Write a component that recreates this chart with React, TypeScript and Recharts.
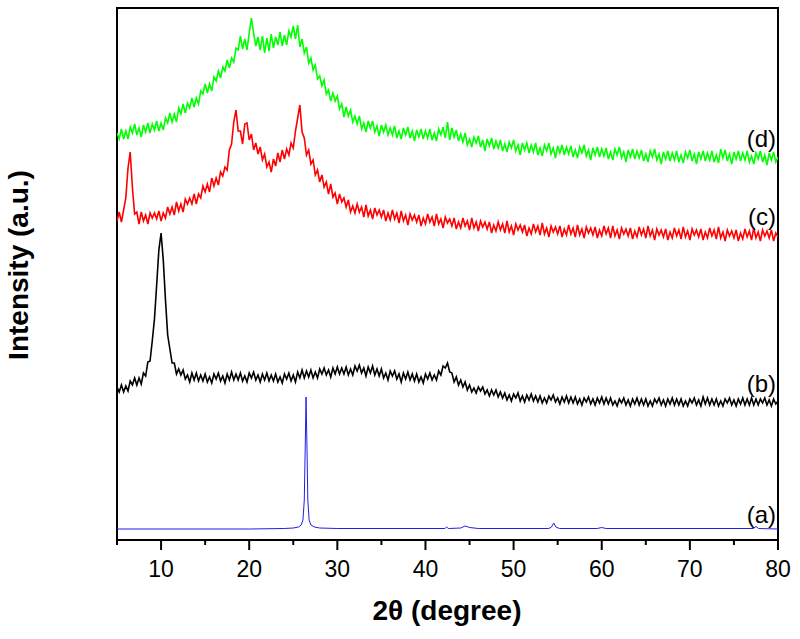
import { LineChart, Line, XAxis, YAxis, ReferenceArea } from 'recharts'

// plain page, no body margin
document.body.style.margin = '0'

// 2θ grid (degree) shared by the three noisy patterns (b), (c), (d)
const ANGLES = [
  5, 5.25, 5.5, 5.75, 6, 6.25, 6.5, 6.75,
  7, 7.25, 7.5, 7.75, 8, 8.25, 8.5, 8.75,
  9, 9.25, 9.5, 9.75, 10, 10.25, 10.5, 10.75,
  11, 11.25, 11.5, 11.75, 12, 12.25, 12.5, 12.75,
  13, 13.25, 13.5, 13.75, 14, 14.25, 14.5, 14.75,
  15, 15.25, 15.5, 15.75, 16, 16.25, 16.5, 16.75,
  17, 17.25, 17.5, 17.75, 18, 18.25, 18.5, 18.75,
  19, 19.25, 19.5, 19.75, 20, 20.25, 20.5, 20.75,
  21, 21.25, 21.5, 21.75, 22, 22.25, 22.5, 22.75,
  23, 23.25, 23.5, 23.75, 24, 24.25, 24.5, 24.75,
  25, 25.25, 25.5, 25.75, 26, 26.25, 26.5, 26.75,
  27, 27.25, 27.5, 27.75, 28, 28.25, 28.5, 28.75,
  29, 29.25, 29.5, 29.75, 30, 30.25, 30.5, 30.75,
  31, 31.25, 31.5, 31.75, 32, 32.25, 32.5, 32.75,
  33, 33.25, 33.5, 33.75, 34, 34.25, 34.5, 34.75,
  35, 35.25, 35.5, 35.75, 36, 36.25, 36.5, 36.75,
  37, 37.25, 37.5, 37.75, 38, 38.25, 38.5, 38.75,
  39, 39.25, 39.5, 39.75, 40, 40.25, 40.5, 40.75,
  41, 41.25, 41.5, 41.75, 42, 42.25, 42.5, 42.75,
  43, 43.25, 43.5, 43.75, 44, 44.25, 44.5, 44.75,
  45, 45.25, 45.5, 45.75, 46, 46.25, 46.5, 46.75,
  47, 47.25, 47.5, 47.75, 48, 48.25, 48.5, 48.75,
  49, 49.25, 49.5, 49.75, 50, 50.25, 50.5, 50.75,
  51, 51.25, 51.5, 51.75, 52, 52.25, 52.5, 52.75,
  53, 53.25, 53.5, 53.75, 54, 54.25, 54.5, 54.75,
  55, 55.25, 55.5, 55.75, 56, 56.25, 56.5, 56.75,
  57, 57.25, 57.5, 57.75, 58, 58.25, 58.5, 58.75,
  59, 59.25, 59.5, 59.75, 60, 60.25, 60.5, 60.75,
  61, 61.25, 61.5, 61.75, 62, 62.25, 62.5, 62.75,
  63, 63.25, 63.5, 63.75, 64, 64.25, 64.5, 64.75,
  65, 65.25, 65.5, 65.75, 66, 66.25, 66.5, 66.75,
  67, 67.25, 67.5, 67.75, 68, 68.25, 68.5, 68.75,
  69, 69.25, 69.5, 69.75, 70, 70.25, 70.5, 70.75,
  71, 71.25, 71.5, 71.75, 72, 72.25, 72.5, 72.75,
  73, 73.25, 73.5, 73.75, 74, 74.25, 74.5, 74.75,
  75, 75.25, 75.5, 75.75, 76, 76.25, 76.5, 76.75,
  77, 77.25, 77.5, 77.75, 78, 78.25, 78.5, 78.75,
  79, 79.25, 79.5, 79.75, 80,
]

// intensity (a.u., stacked offsets) on the grid above
const INT_B = [
  153, 148, 155, 148, 154, 149, 159, 155,
  162, 155, 162, 156, 167, 164, 178, 179,
  199, 221, 255, 290, 307, 280, 240, 205,
  191, 177, 177, 166, 171, 165, 170, 161,
  165, 158, 167, 160, 167, 159, 165, 159,
  166, 158, 163, 157, 166, 161, 167, 159,
  164, 157, 166, 160, 168, 160, 166, 160,
  167, 159, 164, 158, 167, 162, 168, 160,
  165, 158, 166, 160, 167, 159, 165, 159,
  166, 158, 163, 157, 166, 161, 167, 159,
  165, 158, 168, 162, 170, 162, 169, 163,
  170, 162, 168, 162, 171, 166, 172, 165,
  170, 163, 172, 166, 173, 166, 172, 166,
  173, 165, 171, 165, 174, 169, 175, 167,
  172, 164, 173, 167, 174, 165, 171, 164,
  171, 162, 167, 160, 169, 164, 169, 161,
  166, 158, 167, 161, 168, 160, 166, 159,
  166, 158, 163, 157, 166, 161, 167, 160,
  165, 160, 169, 165, 174, 172, 177, 168,
  167, 158, 163, 155, 160, 153, 158, 150,
  155, 148, 152, 147, 153, 149, 153, 146,
  150, 144, 150, 145, 150, 143, 148, 142,
  147, 140, 145, 139, 146, 142, 147, 139,
  144, 138, 145, 140, 146, 139, 144, 138,
  144, 137, 142, 137, 144, 140, 145, 138,
  142, 136, 143, 138, 144, 137, 143, 137,
  143, 136, 141, 135, 142, 138, 143, 136,
  141, 135, 142, 137, 143, 136, 142, 136,
  142, 135, 139, 134, 141, 137, 142, 135,
  140, 134, 141, 136, 142, 135, 141, 135,
  141, 134, 139, 134, 141, 137, 142, 135,
  140, 134, 141, 136, 142, 135, 141, 135,
  141, 134, 139, 134, 141, 137, 142, 135,
  140, 134, 143, 136, 142, 135, 141, 135,
  141, 134, 139, 134, 141, 137, 142, 135,
  140, 134, 141, 136, 142, 135, 141, 135,
  142, 135, 141, 135, 141, 137, 142, 135,
  140, 134, 141, 136, 139,
]

const INT_C = [
  319, 328, 318, 330, 342, 372, 388, 352,
  326, 328, 316, 328, 319, 325, 316, 327,
  322, 327, 321, 329, 319, 327, 322, 333,
  326, 333, 325, 338, 329, 336, 328, 341,
  336, 342, 336, 346, 336, 346, 342, 354,
  348, 356, 348, 362, 354, 362, 355, 368,
  364, 373, 370, 390, 396, 418, 430, 409,
  409, 396, 416, 417, 400, 406, 390, 397,
  386, 393, 380, 386, 373, 378, 368, 381,
  374, 387, 378, 390, 381, 391, 385, 397,
  392, 409, 422, 435, 408, 402, 385, 390,
  376, 380, 365, 370, 358, 365, 353, 358,
  346, 356, 343, 347, 336, 346, 338, 342,
  333, 340, 328, 334, 327, 336, 328, 333,
  323, 335, 324, 330, 321, 332, 325, 330,
  323, 330, 319, 327, 320, 330, 321, 327,
  317, 329, 319, 325, 315, 326, 320, 325,
  318, 325, 314, 322, 316, 326, 318, 323,
  314, 326, 316, 321, 312, 323, 317, 321,
  314, 322, 311, 318, 312, 322, 314, 319,
  310, 322, 312, 318, 309, 319, 313, 318,
  311, 318, 307, 315, 309, 318, 310, 316,
  307, 319, 308, 314, 305, 316, 310, 315,
  308, 315, 304, 312, 306, 316, 308, 314,
  305, 317, 306, 312, 303, 314, 308, 313,
  306, 314, 303, 311, 305, 315, 306, 312,
  303, 315, 305, 311, 302, 313, 307, 312,
  305, 313, 302, 310, 304, 314, 306, 312,
  302, 314, 304, 310, 301, 312, 306, 311,
  304, 312, 301, 309, 303, 313, 305, 311,
  302, 314, 304, 310, 300, 311, 305, 310,
  303, 311, 300, 308, 302, 312, 304, 310,
  301, 313, 303, 309, 300, 311, 305, 310,
  303, 311, 300, 308, 302, 312, 304, 310,
  301, 313, 302, 308, 299, 310, 304, 309,
  302, 310, 299, 307, 301, 311, 303, 309,
  300, 312, 302, 308, 299, 310, 304, 309,
  302, 310, 299, 307, 303,
]

const INT_D = [
  407, 401, 411, 401, 409, 401, 413, 407,
  416, 405, 412, 403, 415, 408, 417, 407,
  416, 410, 419, 409, 417, 410, 422, 417,
  427, 418, 426, 418, 432, 426, 436, 427,
  437, 432, 442, 433, 442, 436, 449, 446,
  456, 447, 456, 449, 463, 459, 469, 462,
  473, 469, 480, 472, 482, 478, 492, 490,
  504, 491, 501, 490, 507, 522, 507, 494,
  503, 490, 504, 487, 502, 489, 506, 492,
  503, 495, 508, 494, 505, 495, 509, 503,
  514, 501, 515, 493, 501, 487, 493, 477,
  482, 470, 475, 461, 464, 454, 460, 446,
  450, 439, 447, 439, 444, 431, 436, 423,
  433, 424, 430, 418, 424, 416, 424, 411,
  417, 408, 419, 412, 419, 408, 414, 404,
  415, 408, 415, 405, 412, 405, 414, 402,
  409, 401, 412, 405, 413, 402, 409, 399,
  410, 403, 411, 401, 409, 402, 411, 400,
  407, 399, 411, 405, 413, 402, 418, 400,
  412, 403, 410, 399, 406, 398, 407, 395,
  401, 393, 403, 397, 404, 393, 400, 389,
  401, 394, 402, 391, 399, 392, 400, 389,
  396, 388, 398, 392, 400, 389, 395, 385,
  397, 390, 397, 387, 395, 388, 397, 385,
  392, 384, 395, 389, 397, 386, 392, 382,
  394, 387, 395, 385, 393, 386, 394, 383,
  390, 382, 393, 387, 395, 384, 390, 380,
  392, 385, 393, 383, 391, 384, 392, 381,
  388, 380, 391, 385, 393, 382, 388, 378,
  390, 383, 391, 381, 389, 382, 390, 379,
  386, 378, 389, 383, 391, 380, 386, 376,
  388, 381, 389, 379, 387, 380, 389, 378,
  385, 377, 388, 382, 390, 379, 386, 376,
  388, 381, 389, 379, 387, 380, 389, 378,
  385, 377, 391, 382, 390, 379, 386, 376,
  388, 381, 389, 379, 387, 380, 389, 378,
  384, 376, 387, 381, 389, 378, 385, 375,
  387, 380, 388, 378, 383,
]

// (a) is smooth with a few sharp reflections: [2θ, intensity]
const SERIES_A: [number, number][] = [
  [5, 11], [20, 11], [24, 11.5], [25, 12], [25.6, 13], [25.9, 15], [26.1, 20], [26.25, 40],
  [26.35, 90], [26.45, 143], [26.55, 95], [26.65, 40], [26.8, 20], [27, 15], [27.4, 13], [28, 12],
  [30, 11.5], [42.2, 11.5], [42.4, 13], [42.6, 11.5], [44, 12], [44.5, 14], [45, 12.5], [46, 11.5],
  [54, 11.5], [54.3, 13], [54.55, 17], [54.8, 13], [55.2, 11.5], [59.5, 11.5], [60, 12.5],
  [60.5, 11.5], [77.2, 11.5], [77.5, 13.5], [77.8, 11.5], [80, 11],
]

const X_TICKS = [5, 10, 15, 20, 25, 30, 35, 40, 45, 50, 55, 60, 65, 70, 75, 80]
const SERIES_LABELS = ['(a)', '(b)', '(c)', '(d)']
// label baselines (px) for (a)..(d), right aligned at the plot edge
const LABEL_Y = [523, 392, 225, 147]

const COLORS = {
  a: '#1f1fe6',
  b: '#000000',
  c: '#ff0000',
  d: '#00ff00',
}

const FONT = '"Liberation Sans", Arial, sans-serif'

const table = ANGLES.map((x, i) => ({ x, b: INT_B[i], c: INT_C[i], d: INT_D[i] }))
const tableA = SERIES_A.map(([x, a]) => ({ x, a }))

const AxisTick = ({ x, y, payload }: any) => {
  const major = payload.value % 10 === 0
  return (
    <g>
      <line x1={x} x2={x} y1={y} y2={y + (major ? 10 : 5)} stroke="#000" strokeWidth={2} />
      {major && (
        <text x={x} y={y + 37} textAnchor="middle" fontSize={23} fontFamily={FONT} fill="#000">
          {payload.value}
        </text>
      )}
    </g>
  )
}

export default function App() {
  return (
    <div style={{ position: 'relative', width: 800, height: 639, background: '#fff' }}>
      <LineChart width={800} height={639} data={table} margin={{ top: 8, right: 22, bottom: 0, left: 117 }}>
        <XAxis
          dataKey="x"
          type="number"
          domain={[5, 80]}
          ticks={X_TICKS}
          interval={0}
          allowDataOverflow
          height={99}
          axisLine={false}
          tickLine={false}
          tickSize={0}
          tickMargin={0}
          tick={<AxisTick />}
        />
        <YAxis type="number" domain={[0, 532]} hide allowDataOverflow />
        <Line data={tableA} dataKey="a" stroke={COLORS.a} strokeWidth={1} dot={false} isAnimationActive={false} />
        <Line dataKey="b" stroke={COLORS.b} strokeWidth={1.6} dot={false} isAnimationActive={false} />
        <Line dataKey="c" stroke={COLORS.c} strokeWidth={1.6} dot={false} isAnimationActive={false} />
        <Line dataKey="d" stroke={COLORS.d} strokeWidth={1.6} dot={false} isAnimationActive={false} />
        <ReferenceArea x1={5} x2={80} y1={0} y2={532} fill="none" stroke="#000" strokeWidth={2} ifOverflow="visible" />
      </LineChart>
      <svg width={800} height={639} style={{ position: 'absolute', left: 0, top: 0, pointerEvents: 'none' }}>
        {SERIES_LABELS.map((label, i) => (
          <text key={label} x={776} y={LABEL_Y[i]} textAnchor="end" fontSize={24} fontFamily={FONT} fill="#000">
            {label}
          </text>
        ))}
        <text x={447} y={620} textAnchor="middle" fontSize={28} fontWeight="bold" fontFamily={FONT} fill="#000">
          2θ (degree)
        </text>
        <text
          transform="translate(28,265) rotate(-90)"
          textAnchor="middle"
          fontSize={28}
          fontWeight="bold"
          fontFamily={FONT}
          fill="#000"
        >
          Intensity (a.u.)
        </text>
      </svg>
    </div>
  )
}
